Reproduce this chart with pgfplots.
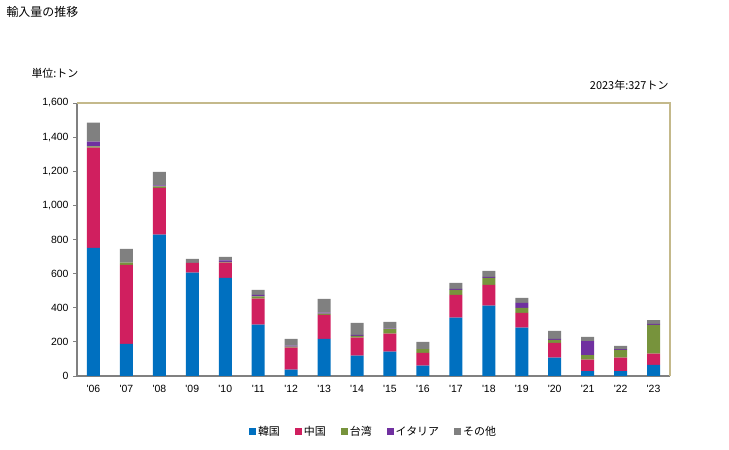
\documentclass[border=0pt]{standalone}
\usepackage{pgfplots}
\usepackage{pgfplotstable}
\pgfplotsset{compat=1.18}
\usepackage{fontspec}
\setmainfont{Noto Sans CJK JP}
\newfontfamily\lib{Liberation Sans}

\definecolor{cKR}{HTML}{0070C0}
\definecolor{cCN}{HTML}{D01F5F}
\definecolor{cTW}{HTML}{77933C}
\definecolor{cIT}{HTML}{7030A0}
\definecolor{cOT}{HTML}{808080}
\definecolor{frameTan}{HTML}{C4B98B}

\pgfplotstableread{
x KR CN TW IT OT
0 751 587 8 27 112
1 188 463 14 0 80
2 829 274 8 6 80
3 606 57 0 0 24
4 575 90 4 8 21
5 301 153 12 9 30
6 37 129 6 6 39
7 217 141 8 6 80
8 119 106 10 6 70
9 143 105 26 4 39
10 61 74 23 0 42
11 342 133 30 5 36
12 413 121 41 6 35
13 284 86 29 29 30
14 108 86 17 6 47
15 29 67 27 82 24
16 29 79 45 5 18
17 65 66 168 6 22
}\datatable

\newcommand{\q}{\symbol{39}}

\begin{document}
\begin{tikzpicture}[x=1bp,y=1bp]
\useasboundingbox (0,0) rectangle (729,450);
\begin{axis}[
  at={(77bp,74bp)}, anchor=south west,
  scale only axis, width=593bp, height=273bp,
  ybar stacked, bar width=13bp,
  xmin=-0.5, xmax=17.5, ymin=0, ymax=1600,
  xtick={0,...,17},
  xticklabels={\q06,\q07,\q08,\q09,\q10,\q11,\q12,\q13,\q14,\q15,\q16,\q17,\q18,\q19,\q20,\q21,\q22,\q23},
  ytick={0,200,...,1600},
  /pgf/number format/.cd, 1000 sep={,}, assume math mode=true,
  /pgfplots/.cd,
  axis x line*=bottom, axis y line*=left,
  axis line style={draw=cOT, line width=1.2bp},
  x axis line style={-}, y axis line style={-},
  y tick style={draw=cOT, line width=0.8bp},
  major tick length=4bp,
  tick align=outside,
  x tick style={draw=none},
  tick label style={font=\lib\fontsize{10.5}{12}\selectfont, text=black},
  yticklabel style={xshift=-1bp},
  xticklabel style={yshift=-2bp},
  legend style={at={(0.5,-0.205)}, anchor=center, legend columns=5, draw=none,
    font=\fontsize{11}{13}\selectfont,
    /tikz/every even column/.append style={column sep=13bp}},
  legend cell align=left,
  legend image code/.code={\fill[#1] (0bp,-3.5bp) rectangle (7bp,3.5bp);},
  clip=false,
]
\addplot[fill=cKR, draw=none] table[x=x, y=KR] {\datatable};
\addplot[fill=cCN, draw=none] table[x=x, y=CN] {\datatable};
\addplot[fill=cTW, draw=none] table[x=x, y=TW] {\datatable};
\addplot[fill=cIT, draw=none] table[x=x, y=IT] {\datatable};
\addplot[fill=cOT, draw=none] table[x=x, y=OT] {\datatable};
\legend{韓国,中国,台湾,イタリア,その他}
\draw[frameTan, line width=1.2bp] (rel axis cs:0,1) -- (rel axis cs:1,1) -- (rel axis cs:1,0);
\end{axis}
\node[anchor=west, font=\fontsize{12}{14}\selectfont] at (3,438) {輸入量の推移};
\node[anchor=west, font=\fontsize{11}{13}\selectfont] at (28,377) {単位:トン};
\node[anchor=east, font=\fontsize{11}{13}\selectfont] at (672,365) {2023年:327トン};
\end{tikzpicture}
\end{document}
